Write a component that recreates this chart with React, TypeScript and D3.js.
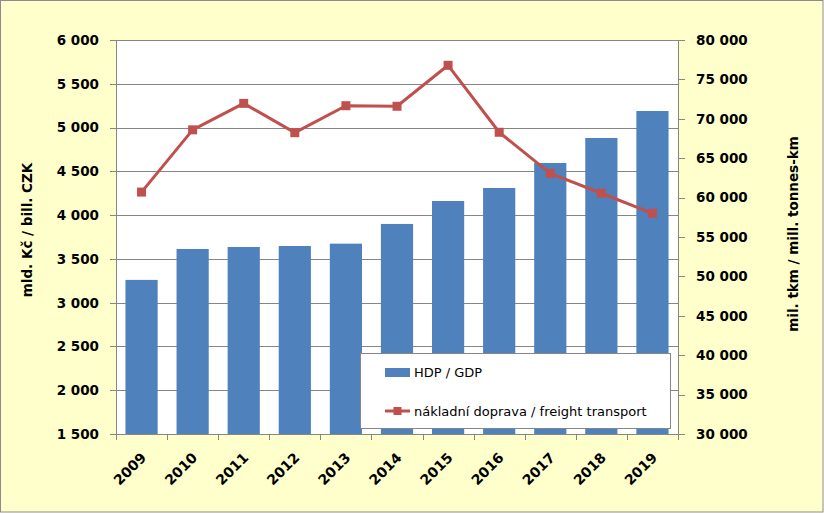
import React from "react";
import * as d3 from "d3";

const years = ["2009", "2010", "2011", "2012", "2013", "2014", "2015", "2016", "2017", "2018", "2019"];
const gdp = [3260, 3613, 3636, 3647, 3674, 3899, 4161, 4310, 4595, 4881, 5189];
const freight = [60700, 68600, 71960, 68240, 71660, 71590, 76790, 68290, 63080, 60550, 58010];
const leftTicks = [1500, 2000, 2500, 3000, 3500, 4000, 4500, 5000, 5500, 6000];
const rightTicks = [30000, 35000, 40000, 45000, 50000, 55000, 60000, 65000, 70000, 75000, 80000];
const seriesNames = ["HDP / GDP", "nákladní doprava / freight transport"];
const axisTitles = ["mld. Kč / bill. CZK", "mil. tkm / mill. tonnes-km"];

const W = 824, H = 513;
const L = 116, R = 678, T = 40, B = 434;
const FONT = "'DejaVu Sans', Verdana, sans-serif";
const BAR = "#4F81BD", LINE = "#C0504D", GRID = "#868686";

const fmt = d3.formatLocale({ thousands: " ", grouping: [3], decimal: ",", currency: ["", ""] }).format(",");

export default function App() {
  const x = d3.scaleBand<string>().domain(years).range([L, R]).paddingInner(0.37).paddingOuter(0.185);
  const xb = d3.scaleBand<string>().domain(years).range([L, R]);
  const yL = d3.scaleLinear().domain([1500, 6000]).range([B, T]);
  const yR = d3.scaleLinear().domain([30000, 80000]).range([B, T]);
  const line = d3.line<number>().x((_, i) => (x(years[i]) as number) + x.bandwidth() / 2).y((d) => yR(d));

  return (
    <svg width={W} height={H} style={{ position: "absolute", left: 0, top: 0 }} fontFamily={FONT}>
      <rect x={0.5} y={0.5} width={W - 1.5} height={H - 1.5} fill="#FFFFCC" stroke="#8C8C8C" />
      <rect x={L} y={T} width={R - L} height={B - T} fill="#FFFFFF" />
      {leftTicks.map((t) => (
        <g key={"l" + t}>
          <line x1={L - 6} x2={R} y1={Math.round(yL(t)) + 0.5} y2={Math.round(yL(t)) + 0.5} stroke={GRID} />
          <text x={99} y={yL(t)} dy="0.36em" textAnchor="end" fontSize={13.5} fontWeight="bold" fill="#000">{fmt(t)}</text>
        </g>
      ))}
      {rightTicks.map((t) => (
        <g key={"r" + t}>
          <line x1={R} x2={R + 7} y1={Math.round(yR(t)) + 0.5} y2={Math.round(yR(t)) + 0.5} stroke={GRID} />
          <text x={696} y={yR(t)} dy="0.36em" textAnchor="start" fontSize={13.5} fontWeight="bold" fill="#000">{fmt(t)}</text>
        </g>
      ))}
      <line x1={L + 0.5} x2={L + 0.5} y1={T} y2={B} stroke={GRID} />
      <line x1={R + 0.5} x2={R + 0.5} y1={T} y2={B} stroke={GRID} />
      {years.map((yr, i) => (
        <rect key={"b" + yr} x={x(yr)} y={yL(gdp[i])} width={x.bandwidth()} height={B - yL(gdp[i])} fill={BAR} />
      ))}
      <line x1={L} x2={R} y1={B + 0.5} y2={B + 0.5} stroke={GRID} />
      {years.map((yr) => (
        <line key={"t" + yr} x1={Math.round(xb(yr) as number) + 0.5} x2={Math.round(xb(yr) as number) + 0.5} y1={B} y2={B + 6} stroke={GRID} />
      ))}
      <line x1={R + 0.5} x2={R + 0.5} y1={B} y2={B + 6} stroke={GRID} />
      {years.map((yr) => {
        const cx = (xb(yr) as number) + xb.bandwidth() / 2;
        return (
          <text key={"x" + yr} transform={`translate(${cx + 2},${B + 21}) rotate(-45)`} textAnchor="end" dy="0.36em" fontSize={14} fontWeight="bold" fill="#000">{yr}</text>
        );
      })}
      <path d={line(freight) || ""} fill="none" stroke={LINE} strokeWidth={3} strokeLinejoin="round" />
      {freight.map((v, i) => (
        <rect key={"m" + i} x={(x(years[i]) as number) + x.bandwidth() / 2 - 4.5} y={yR(v) - 4.5} width={9} height={9} fill={LINE} />
      ))}
      <g>
        <rect x={360.5} y={353.5} width={310} height={75} fill="#FFFFFF" stroke={GRID} />
        <rect x={385} y={368} width={25} height={9} fill={BAR} />
        <text x={414} y={376.5} fontSize={13} fill="#000" fontFamily={FONT}>{seriesNames[0]}</text>
        <line x1={385} x2={410} y1={411} y2={411} stroke={LINE} strokeWidth={3} />
        <rect x={393.5} y={407} width={8} height={8} fill={LINE} />
        <text x={414} y={415.5} fontSize={13} fill="#000">{seriesNames[1]}</text>
      </g>
      <text transform="translate(32,230) rotate(-90)" textAnchor="middle" fontSize={13.5} fontWeight="bold" fill="#000">{axisTitles[0]}</text>
      <text transform="translate(798,234) rotate(-90)" textAnchor="middle" fontSize={13.5} fontWeight="bold" fill="#000">{axisTitles[1]}</text>
    </svg>
  );
}
